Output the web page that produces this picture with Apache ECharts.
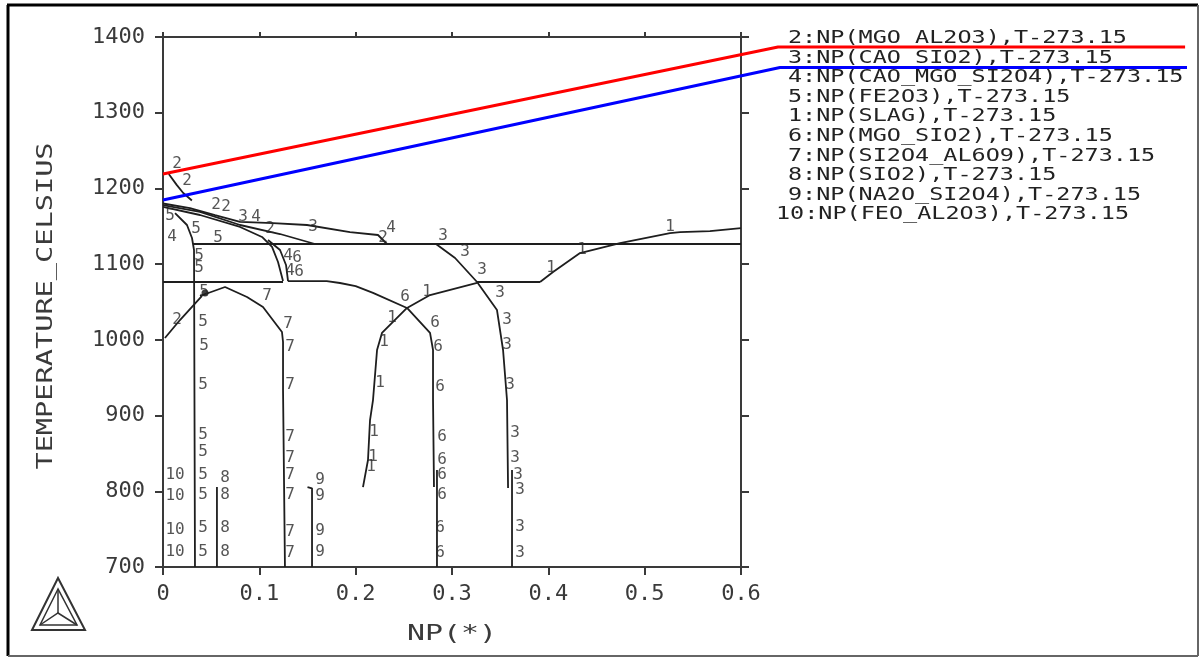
<!DOCTYPE html>
<html><head><meta charset="utf-8">
<script src="https://cdn.jsdelivr.net/npm/echarts@6/dist/echarts.min.js"></script>
<style>html,body{margin:0;padding:0;background:#fff}#c{width:1202px;height:662px}</style>
</head><body><div id="c"></div>
<script>
// ---- tick labels ----
const xTickLabels = ['0','0.1','0.2','0.3','0.4','0.5','0.6'];
const yTickLabels = ['700','800','900','1000','1100','1200','1300','1400'];
const xTitle = 'NP(*)';
const yTitle = 'TEMPERATURE_CELSIUS';

// ---- legend texts ----
const legendEntries = [
  '2:NP(MGO_AL2O3),T-273.15',
  '3:NP(CAO_SIO2),T-273.15',
  '4:NP(CAO_MGO_SI2O4),T-273.15',
  '5:NP(FE2O3),T-273.15',
  '1:NP(SLAG),T-273.15',
  '6:NP(MGO_SIO2),T-273.15',
  '7:NP(SI2O4_AL6O9),T-273.15',
  '8:NP(SIO2),T-273.15',
  '9:NP(NA2O_SI2O4),T-273.15',
  '10:NP(FEO_AL2O3),T-273.15'
];

// ---- coloured lines (x = NP, y = T celsius) ----
const redLine  = [[0, 1219], [0.6384, 1386.8], [1.061, 1386.8]];
const blueLine = [[0, 1184.7], [0.6405, 1359.6], [1.063, 1359.6]];

// ---- phase boundary curves (NP, T) ----
const phase2Upper = [[0.006,1219],[0.014,1205],[0.021,1194],[0.030,1184]];
const bundleTop   = [[0,1180.1],[0.028,1174.1],[0.054,1164.8],[0.080,1155.7],[0.1142,1154.3],[0.1495,1151.7],[0.1941,1142.4],[0.2232,1138.5],[0.2325,1126.6]];
const bundleMid   = [[0,1178.1],[0.0384,1168.9],[0.080,1151.7],[0.1215,1139.8],[0.1578,1126.6]];
const curve46a    = [[0,1175.5],[0.0384,1164.9],[0.080,1149.1],[0.1028,1135.9],[0.1132,1122.7],[0.1194,1102.8],[0.1246,1077.7]];
const curve46b    = [[0.109,1131.9],[0.1215,1118.7],[0.1277,1098.9],[0.1298,1077.7]];
const isoHigh     = [[0.0311,1126.6],[0.6,1126.6]];
const isoLowLeft  = [[0,1076.4],[0.1246,1076.4]];
const isoLowRight = [[0.326,1076.4],[0.3914,1076.4]];
const phase6      = [[0.1298,1077.7],[0.170,1077.7],[0.1837,1075.1],[0.200,1071],[0.218,1062],[0.2533,1042.1],[0.2772,1009.1],[0.2803,986.6],[0.2803,920.5],[0.2813,805.6]];
const phase6Low   = [[0.2844,828],[0.2844,700]];
const phase3      = [[0.2834,1126.6],[0.3032,1108.1],[0.326,1076.4],[0.3467,1039.4],[0.353,986.6],[0.3571,920.5],[0.3582,804.3]];
const phase3Low   = [[0.3623,828],[0.3623,700]];
const slagRight   = [[0.3914,1076.4],[0.4049,1089.6],[0.4329,1114.7],[0.4744,1127.9],[0.5263,1141.1],[0.5367,1142.4],[0.5678,1143.7],[0.6,1147.7]];
const slagLeft    = [[0.326,1075.1],[0.2772,1059.2],[0.2533,1042.1],[0.2273,1009.1],[0.2222,986.6],[0.218,920.5],[0.2149,894.1],[0.2128,841.3],[0.2076,805.6]];
const phase7      = [[0.0384,1057.9],[0.0644,1069.8],[0.0872,1056.6],[0.1038,1043.4],[0.1235,1010.4],[0.1246,997.2],[0.1246,933.8],[0.1266,931.2],[0.1266,700]];
const phase2Lower = [[0.002,1002.4],[0.0176,1026.2],[0.0405,1058]];
const phase5      = [[0.0125,1167.5],[0.0249,1151.7],[0.0301,1134.5],[0.0322,1118.7],[0.0332,700]];
const phase8      = [[0.056,805.6],[0.056,700]];
const phase9      = [[0.150,805.6],[0.1547,804],[0.1547,700]];
const dotPoint    = [[0.0436,1062]];

// ---- curve number labels: [text, NP, T] ----
const curveLabels = [
  ['2',0.0145,1232],['2',0.0249,1210],['2',0.055,1178],['2',0.0654,1175.5],
  ['3',0.083,1162.3],['4',0.0965,1162.3],['2',0.1111,1146.4],['3',0.1557,1149],
  ['2',0.2284,1134.5],['4',0.2367,1147.7],
  ['5',0.0073,1163.6],['4',0.0093,1135.8],['5',0.0343,1146.4],['5',0.0571,1134.5],
  ['5',0.0374,1110.7],['5',0.0374,1094.9],['5',0.0426,1063.2],
  ['4',0.1298,1110.7],['6',0.1391,1108.1],['4',0.1318,1090.9],['6',0.1412,1089.6],
  ['7',0.108,1057.9],['7',0.1298,1020.9],['7',0.1318,990.6],['7',0.1318,940.4],['7',0.1318,871.7],
  ['7',0.1318,844.0],['7',0.1318,821.5],['7',0.1318,795.1],['7',0.1318,746.2],['7',0.1318,718.5],
  ['2',0.0145,1026.2],
  ['5',0.0415,1023.6],['5',0.0426,991.9],['5',0.0415,940.4],['5',0.0415,874.3],['5',0.0415,851.9],
  ['5',0.0415,821.5],['5',0.0415,795.1],['5',0.0415,751.5],['5',0.0415,719.8],
  ['10',0.0125,821.5],['10',0.0125,793.8],['10',0.0125,748.8],['10',0.0125,719.8],
  ['8',0.0644,817.5],['8',0.0644,795.1],['8',0.0644,751.5],['8',0.0644,719.8],
  ['9',0.163,814.9],['9',0.163,793.8],['9',0.163,747.5],['9',0.163,719.8],
  ['6',0.2512,1056.6],['1',0.2741,1063.2],
  ['1',0.2377,1028.9],['1',0.2294,997.2],['1',0.2253,943],['1',0.219,878.3],['1',0.218,845.3],['1',0.2159,832.1],
  ['6',0.2824,1022.2],['6',0.2855,990.6],['6',0.2876,937.7],['6',0.2896,871.7],['6',0.2896,841.3],
  ['6',0.2896,821.5],['6',0.2896,795.1],['6',0.2876,751.5],['6',0.2876,718.5],
  ['3',0.2907,1137.2],['3',0.3135,1116],['3',0.3312,1092.3],['3',0.3498,1061.9],['3',0.3571,1026.2],
  ['3',0.3571,993.2],['3',0.3602,940.4],['3',0.3654,877],['3',0.3654,844],['3',0.3685,821.5],
  ['3',0.3706,801.7],['3',0.3706,752.8],['3',0.3706,718.5],
  ['1',0.4028,1094.9],['1',0.435,1118.7],['1',0.5263,1149.1]
];

const chart = echarts.init(document.getElementById('c'), null, {renderer:'canvas'});
const MONO = 'DejaVu Sans Mono';
const AX = '#3a3a3a';
const CURVE = '#1e1e1e';

// layout of the plotting box
const G = {left:163, top:37, width:578, height:530};
const X_MAX = 0.6;
const WIDE_W = 1030; // wider hidden grid sharing the same scale, for the coloured lines
const WIDE_MAX = X_MAX * WIDE_W / G.width;

const curves = [phase2Upper,bundleTop,bundleMid,curve46a,curve46b,isoHigh,isoLowLeft,isoLowRight,
  phase6,phase6Low,phase3,phase3Low,slagRight,slagLeft,phase7,phase2Lower,phase5,phase8,phase9];

const series = curves.map(d => ({
  type:'line', data:d, symbol:'none', showSymbol:false, silent:true,
  lineStyle:{color:CURVE, width:1.8}, z:3
}));
series.push({type:'line', xAxisIndex:2, yAxisIndex:2, data:redLine, symbol:'none', silent:true, lineStyle:{color:'#ff0000', width:3}, z:6});
series.push({type:'line', xAxisIndex:2, yAxisIndex:2, data:blueLine, symbol:'none', silent:true, lineStyle:{color:'#0000ff', width:3}, z:6});
series.push({type:'scatter', data:dotPoint, symbolSize:7, itemStyle:{color:'#111'}, silent:true, z:4});
series.push({
  type:'scatter', silent:true, symbolSize:1, itemStyle:{color:'rgba(0,0,0,0)'}, z:5,
  data: curveLabels.map(l => ({name:l[0], value:[l[1], l[2]]})),
  label:{show:true, position:'inside', formatter:'{b}', fontFamily:MONO, fontSize:16, color:'#2a2a2a'}
});

const axisCommon = {
  axisLine:{show:true, onZero:false, lineStyle:{color:AX, width:2}},
  splitLine:{show:false}
};

const graphics = [];
// frame
graphics.push({type:'line', shape:{x1:8,y1:5,x2:8,y2:656}, style:{stroke:'#000', lineWidth:3}});
graphics.push({type:'line', shape:{x1:7,y1:5,x2:1198,y2:5}, style:{stroke:'#000', lineWidth:3}});
graphics.push({type:'line', shape:{x1:1198,y1:5,x2:1198,y2:656}, style:{stroke:'#666', lineWidth:2}});
graphics.push({type:'line', shape:{x1:8,y1:656,x2:1198,y2:656}, style:{stroke:'#666', lineWidth:2}});
// axis titles
graphics.push({type:'text', x:452, y:634, scaleX:1.36,
  style:{text:xTitle, font:'22px "DejaVu Sans Mono"', fill:AX, textAlign:'center', textVerticalAlign:'middle'}});
graphics.push({type:'text', x:46, y:306, rotation:Math.PI/2, scaleX:1.3,
  style:{text:yTitle, font:'22px "DejaVu Sans Mono"', fill:AX, textAlign:'center', textVerticalAlign:'middle'}});
// legend text
legendEntries.forEach((t, i) => {
  graphics.push({
    type:'text', x: t.startsWith('10') ? 776 : 788, y: 38.5 + i*19.6, scaleX:1.38,
    style:{text:t, font:'17px "DejaVu Sans Mono"', fill:'#222', textVerticalAlign:'middle', textAlign:'left'},
    z:1
  });
});
// logo
graphics.push({type:'polygon', shape:{points:[[58,578],[32,630],[85,630]]}, style:{fill:'none', stroke:'#333', lineWidth:2}});
graphics.push({type:'polygon', shape:{points:[[58,589],[40,625],[77,625]]}, style:{fill:'none', stroke:'#333', lineWidth:1.5}});
graphics.push({type:'polyline', shape:{points:[[58,589],[58,613]]}, style:{stroke:'#333', lineWidth:1.5}});
graphics.push({type:'polyline', shape:{points:[[40,625],[58,613],[77,625]]}, style:{stroke:'#333', lineWidth:1.5}});

chart.setOption({
  animation:false,
  backgroundColor:'#fff',
  grid:[
    {left:G.left, top:G.top, width:G.width, height:G.height, containLabel:false},
    {left:G.left, top:G.top, width:WIDE_W, height:G.height, containLabel:false}
  ],
  xAxis:[
    Object.assign({}, axisCommon, {
      type:'value', gridIndex:0, position:'bottom', min:0, max:X_MAX, interval:0.1,
      axisTick:{show:true, length:8, lineStyle:{color:AX, width:2}},
      axisLabel:{margin:16, fontFamily:MONO, fontSize:22, color:AX,
        formatter:v => xTickLabels[Math.round(v*10)]}
    }),
    Object.assign({}, axisCommon, {
      type:'value', gridIndex:0, position:'top', min:0, max:X_MAX, interval:0.1,
      axisTick:{show:true, length:5, lineStyle:{color:AX, width:2}},
      axisLabel:{show:false}
    }),
    {type:'value', gridIndex:1, min:0, max:WIDE_MAX, show:false}
  ],
  yAxis:[
    Object.assign({}, axisCommon, {
      type:'value', gridIndex:0, position:'left', min:700, max:1400, interval:100,
      axisTick:{show:true, length:8, lineStyle:{color:AX, width:2}},
      axisLabel:{margin:18, fontFamily:MONO, fontSize:22, color:AX,
        formatter:v => yTickLabels[Math.round((v-700)/100)]}
    }),
    Object.assign({}, axisCommon, {
      type:'value', gridIndex:0, position:'right', min:700, max:1400, interval:100,
      axisTick:{show:true, length:8, lineStyle:{color:AX, width:2}},
      axisLabel:{show:false}
    }),
    {type:'value', gridIndex:1, min:700, max:1400, show:false}
  ],
  graphic: graphics,
  series: series
});
</script></body></html>
